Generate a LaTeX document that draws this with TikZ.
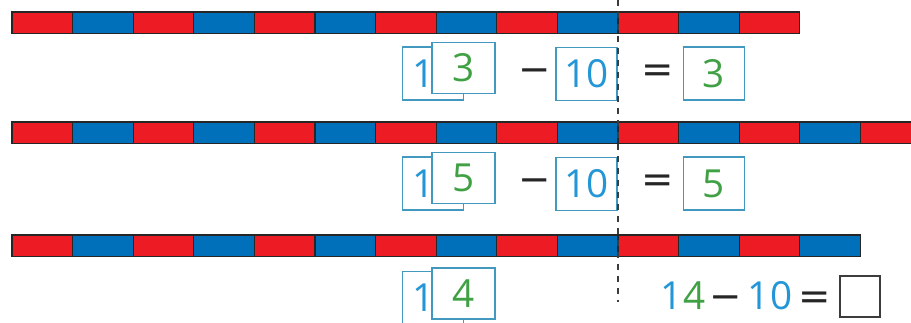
\documentclass[tikz,border=0pt]{standalone}
\usepackage{fontspec}
\setmainfont{Open Sans}
\newfontfamily\signfont{DejaVu Sans}
\usetikzlibrary{positioning}
\definecolor{barred}{RGB}{237,28,36}
\definecolor{barblue}{RGB}{0,112,186}
\definecolor{boxline}{RGB}{66,152,190}
\definecolor{numblue}{RGB}{34,150,214}
\definecolor{numgreen}{RGB}{64,160,68}
\definecolor{cutgray}{RGB}{60,60,60}

\begin{document}
\begin{tikzpicture}[
  x=0.75pt, y=-0.75pt,
  every node/.style={font=\fontsize{29}{31}\selectfont},
  box/.style={draw=boxline, line width=1.2pt, fill=white, inner sep=0pt,
    minimum width=45.5pt, minimum height=40pt},
  tens/.style={box, text width=30.5pt, inner xsep=7.5pt, align=left, text=numblue},
  ones/.style={box, minimum width=47pt, minimum height=38pt, text=numgreen},
  sign/.style={anchor=base, inner sep=0pt},
  op/.style={sign, font=\signfont\fontsize{29}{31}\selectfont, text=black!85},
  cut/.style={draw=cutgray, line width=1.5pt, dash pattern=on 4.5pt off 4.5pt},
  seg/.style={draw=black!85, line width=1pt}
]
  \useasboundingbox (0,0) rectangle (911,323);

  % rods of ten-and-more pieces
  \foreach \top/\n in {12/13, 122/15, 235/14} {
    \foreach \i in {1,...,\n} {
      \ifodd\i \def\piece{barred}\else \def\piece{barblue}\fi
      \pgfmathsetmacro{\xa}{12+(\i-1)*60.6}
      \fill[\piece] (\xa,\top) rectangle ++(60.6,21.5);
      \draw[seg] (\xa,\top) rectangle ++(60.6,21.5);
    }
  }

  % first two rows
  \foreach \dy/\d [count=\k] in {0/3, 110/5} {
    \node[tens] (tens\k) at (433,73.5+\dy) {1};
    \node[ones] (ones\k) at (463.5,68+\dy) {\d};
    \node[op] (minus\k) at (535,83+\dy) {−};
    \node[box, text=numblue] (sub\k) at (586.5,74+\dy) {10};
    \node[op] (eq\k) at (658,83+\dy) {=};
    \node[box, text=numgreen] (res\k) at (714,73.5+\dy) {\d};
  }

  % last row
  \node[tens] (tens3) at (433,298) {1};
  \node[ones] (ones3) at (463.5,293.5) {4};
  \node[sign] (lhs) at (683,310) {{\color{numblue}1}{\color{numgreen}4}};
  \node[op] (minus3) at (725.5,310) {−};
  \node[sign, text=numblue] (sub3) at (770,310) {10};
  \node[op] (eq3) at (815,310) {=};
  \node[box, draw=cutgray, minimum width=30pt, minimum height=30.5pt] (answer) at (860,296.5) {};

  % the cut after ten pieces
  \coordinate (cuttop) at (618,0);
  \coordinate (cutbottom) at (618,302);
  \draw[cut] (cuttop) -- (cutbottom);
\end{tikzpicture}
\end{document}
